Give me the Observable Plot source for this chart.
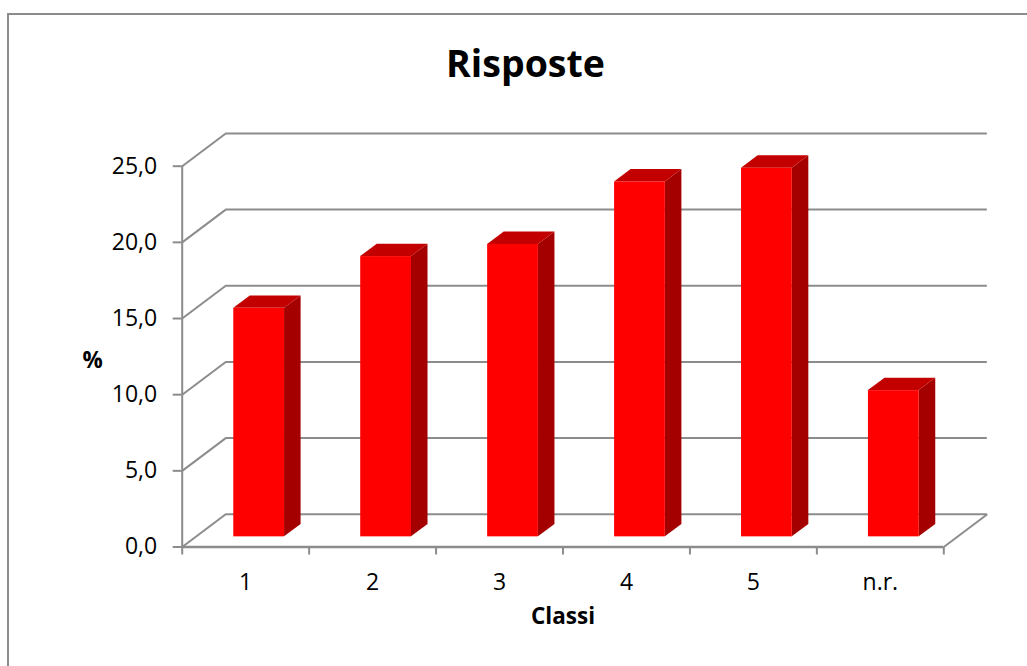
<!DOCTYPE html>
<html>
<head>
<meta charset="utf-8">
<script src="https://cdn.jsdelivr.net/npm/d3@7"></script>
<script src="https://cdn.jsdelivr.net/npm/@observablehq/plot@0.6"></script>
<style>
  html, body { margin: 0; padding: 0; background: #fff; overflow: hidden; }
  #page { position: relative; width: 1027px; height: 666px; overflow: hidden; font-family: "Open Sans", sans-serif; }
  #frame { position: absolute; left: 7px; top: 13px; width: 1100px; height: 700px;
           border-left: 2px solid #8c8c8c; border-top: 2px solid #8c8c8c; }
  #title { position: absolute; left: 0; width: 1051px; top: 44px; text-align: center;
           font-size: 37.5px; line-height: 37px; font-weight: 700; color: #000; }
  #chart { position: absolute; left: 0; top: 0; }
</style>
</head>
<body>
<div id="page">
  <div id="frame"></div>
  <div id="title">Risposte</div>
  <div id="chart"></div>
</div>
<script>
// ---- data ----
const categories = ["1", "2", "3", "4", "5", "n.r."];
const values = [15.0, 18.4, 19.2, 23.3, 24.2, 9.6];
const yTicks = [0, 5, 10, 15, 20, 25];
const yLabel = "%";
const xLabel = "Classi";

// ---- 3D oblique projection (in data units) ----
const DX = 0.343;   // depth shift along x (category units)
const DY = 2.15;    // depth shift along y (value units)
const F = 0.31;     // bar front plane depth fraction
const B = 0.38;     // bar depth fraction
const GAP = 0.3;    // gap on each side of bar within a category

const grid = "#8c8c8c";
const bars = categories.map((c, i) => ({cat: c, i, v: values[i]}));
const topPts = bars.flatMap(d => [0, B].map(t => ({
  cat: d.cat, y: d.v + (F + t) * DY,
  x1: d.i + GAP + (F + t) * DX, x2: d.i + 1 - GAP + (F + t) * DX
})));
const sidePts = bars.flatMap(d => [0, B].map(t => ({
  cat: d.cat, x: d.i + 1 - GAP + (F + t) * DX,
  y1: (F + t) * DY, y2: d.v + (F + t) * DY
})));
const xTickPos = d3.range(categories.length + 1);
const xLabelPos = categories.map((c, i) => i + 0.5);
const fmt = d => d.toFixed(1).replace(".", ",");

const chart = Plot.plot({
  width: 1027,
  height: 666,
  marginLeft: 181.7,
  marginRight: 83.7,
  marginTop: 165.7,
  marginBottom: 119.5,
  x: {domain: [0, categories.length]},
  y: {domain: [0, 25]},
  style: {background: "transparent", fontFamily: "Open Sans, sans-serif", color: "#000"},
  marks: [
    // back wall gridlines
    Plot.ruleY(yTicks, {y: d => d + DY, x1: DX, x2: categories.length + DX, stroke: grid, strokeWidth: 2}),
    Plot.link(yTicks, {x1: 0, y1: d => d, x2: DX, y2: d => d + DY, stroke: grid, strokeWidth: 2}),
    // floor front edge and right edge
    Plot.ruleY([0], {x1: 0, x2: categories.length, stroke: grid, strokeWidth: 2.5}),
    Plot.link([0], {x1: categories.length, y1: 0, x2: categories.length + DX, y2: DY, stroke: grid, strokeWidth: 2}),
    // front value axis line
    Plot.ruleX([0], {y1: 0, y2: 25, stroke: grid, strokeWidth: 2}),
    // bars: side, top, front
    Plot.areaY(sidePts, {x: "x", y1: "y1", y2: "y2", z: "cat", fill: "#a40000"}),
    Plot.areaX(topPts, {y: "y", x1: "x1", x2: "x2", z: "cat", fill: "#c20000"}),
    Plot.rect(bars, {x1: d => d.i + GAP + F * DX, x2: d => d.i + 1 - GAP + F * DX,
                     y1: F * DY, y2: d => d.v + F * DY, fill: "#ff0000"}),
    // axes
    Plot.axisY(yTicks, {tickSize: 9, tickPadding: 16, tickFormat: fmt, stroke: grid, strokeWidth: 2,
                        fill: "#000", fontSize: 23, label: null}),
    Plot.axisX(xTickPos, {tickSize: 8, tickFormat: () => "", stroke: grid, strokeWidth: 2, label: null}),
    Plot.axisX(xLabelPos, {tickSize: 0, tickPadding: 27, tickFormat: t => categories[Math.floor(t)],
                           fill: "#000", fontSize: 23, label: null}),
    // axis titles
    Plot.text([yLabel], {frameAnchor: "left", dx: -99.7, dy: 4, fontSize: 22.5, fontWeight: "bold", fill: "#000"}),
    Plot.text([xLabel], {frameAnchor: "bottom", dy: 76.5, fontSize: 22.5, fontWeight: "bold", fill: "#000"})
  ]
});
document.getElementById("chart").appendChild(chart);
</script>
</body>
</html>
